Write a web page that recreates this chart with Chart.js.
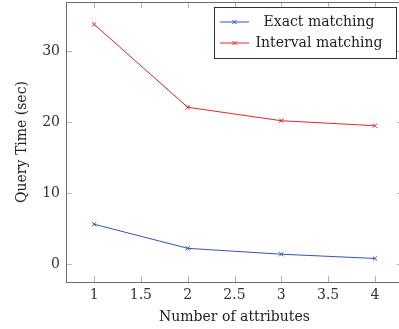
<!DOCTYPE html>
<html>
<head>
<meta charset="utf-8">
<script src="https://cdn.jsdelivr.net/npm/chart.js@4/dist/chart.umd.min.js"></script>
<style>
    html, body { margin: 0; padding: 0; background: #fff; overflow: hidden; }
    #wrap { width: 440px; height: 360px; }
    canvas { display: block; }
</style>
</head>
<body>
<div id="wrap"><canvas id="queryChart" width="408" height="332"></canvas></div>
<script>
// Data
const attributes = [1, 2, 3, 4];
const exactTimes = [5.6, 2.2, 1.37, 0.77];
const intervalTimes = [33.8, 22.1, 20.2, 19.5];
const xTicks = [1, 1.5, 2, 2.5, 3, 3.5, 4];
const yTicks = [0, 10, 20, 30];

const FONT = '"DejaVu Serif", "Liberation Serif", serif';
const FSIZE = 14;
const BLUE = '#3350c0';
const RED = '#ec2230';

// where the plot box should sit in the 399x329 window (right edge is cut off)
const BOX = { top: 2, right: 403, bottom: 282 };

function toPoints(values) {
    return attributes.map((x, i) => ({ x: x, y: values[i] }));
}

// Frame + inward tick marks, pgfplots style
const framePlugin = {
    id: 'frame',
    beforeDatasetsDraw(chart) {
        const { ctx, chartArea: a, scales } = chart;
        ctx.save();
        ctx.strokeStyle = '#b4b4b4';
        ctx.lineWidth = 1;
        const len = 6;
        xTicks.forEach(v => {
            const px = Math.round(scales.x.getPixelForValue(v)) + 0.5;
            ctx.beginPath();
            ctx.moveTo(px, a.bottom); ctx.lineTo(px, a.bottom - len);
            ctx.moveTo(px, a.top); ctx.lineTo(px, a.top + len);
            ctx.stroke();
        });
        yTicks.forEach(v => {
            const py = Math.round(scales.y.getPixelForValue(v)) + 0.5;
            ctx.beginPath();
            ctx.moveTo(a.left, py); ctx.lineTo(a.left + len, py);
            ctx.moveTo(a.right, py); ctx.lineTo(a.right - len, py);
            ctx.stroke();
        });
        ctx.strokeStyle = '#6e6e6e';
        ctx.strokeRect(Math.round(a.left) + 0.5, Math.round(a.top) + 0.5,
            Math.round(a.right - a.left), Math.round(a.bottom - a.top));
        ctx.restore();
    }
};

// Boxed legend in the top right corner (placed relative to the plot box)
const legendPlugin = {
    id: 'boxLegend',
    afterDatasetsDraw(chart) {
        const { ctx, chartArea: a } = chart;
        const bx = Math.round(a.right) - 189;
        const by = Math.round(a.top) + 5;
        ctx.save();
        ctx.fillStyle = '#fff';
        ctx.fillRect(bx, by, 182, 51);
        ctx.strokeStyle = '#333';
        ctx.lineWidth = 1;
        ctx.strokeRect(bx + 0.5, by + 0.5, 182, 51);
        chart.data.datasets.forEach((ds, i) => {
            const cy = by + 15 + i * 21;
            ctx.strokeStyle = ds.borderColor;
            ctx.lineWidth = 1;
            ctx.beginPath();
            ctx.moveTo(bx + 6, cy); ctx.lineTo(bx + 35, cy);
            ctx.stroke();
            Chart.helpers.drawPoint(ctx, { pointStyle: 'crossRot', radius: 3, borderWidth: 1 }, bx + 20.5, cy);
            ctx.fillStyle = '#222';
            ctx.font = FSIZE + 'px ' + FONT;
            ctx.textAlign = 'center';
            ctx.textBaseline = 'middle';
            ctx.fillText(ds.label, bx + 105, cy);
        });
        ctx.restore();
    }
};

const canvas = document.getElementById('queryChart');
const chart = new Chart(canvas.getContext('2d'), {
    type: 'line',
    data: {
        datasets: [
            {
                label: 'Exact matching',
                data: toPoints(exactTimes),
                borderColor: BLUE,
                backgroundColor: BLUE,
                borderWidth: 1,
                pointStyle: 'crossRot',
                pointRadius: 3,
                pointBorderWidth: 1
            },
            {
                label: 'Interval matching',
                data: toPoints(intervalTimes),
                borderColor: RED,
                backgroundColor: RED,
                borderWidth: 1,
                pointStyle: 'crossRot',
                pointRadius: 3,
                pointBorderWidth: 1
            }
        ]
    },
    options: {
        responsive: false,
        animation: false,
        devicePixelRatio: 1,
        layout: { padding: 0 },
        plugins: {
            legend: { display: false },
            tooltip: { enabled: false }
        },
        scales: {
            x: {
                type: 'linear',
                min: 0.7,
                max: 4.3,
                afterFit: s => { s.height = 47; s.paddingLeft = 0; s.paddingRight = 0; },
                afterBuildTicks: s => { s.ticks = xTicks.map(v => ({ value: v })); },
                grid: { display: false, drawTicks: false },
                border: { display: false },
                ticks: {
                    color: '#333',
                    padding: 5,
                    font: { family: FONT, size: FSIZE },
                    maxRotation: 0,
                    callback: v => String(v)
                },
                title: {
                    display: true,
                    text: 'Number of attributes',
                    color: '#222',
                    font: { family: FONT, size: FSIZE },
                    padding: { top: 0, bottom: 3 }
                }
            },
            y: {
                min: -2.55,
                max: 36.95,
                afterFit: s => { s.width = 66; s.paddingTop = 0; s.paddingBottom = 0; },
                afterBuildTicks: s => { s.ticks = yTicks.map(v => ({ value: v })); },
                grid: { display: false, drawTicks: false },
                border: { display: false },
                ticks: {
                    color: '#333',
                    padding: 6,
                    font: { family: FONT, size: FSIZE },
                    callback: v => String(v)
                },
                title: {
                    display: true,
                    text: 'Query Time (sec)',
                    color: '#222',
                    font: { family: FONT, size: FSIZE },
                    padding: { top: 14, bottom: 0 }
                }
            }
        }
    },
    plugins: [framePlugin, legendPlugin]
});

// Chart.js reserves a few px for label overhang; size/shift the canvas so the plot box lands where it should
const a0 = chart.chartArea;
chart.resize(Math.round(chart.width + BOX.right - a0.right),
    Math.round(chart.height + (BOX.bottom - BOX.top) - (a0.bottom - a0.top)));
canvas.style.marginTop = (BOX.top - Math.round(chart.chartArea.top)) + 'px';
</script>
</body>
</html>
